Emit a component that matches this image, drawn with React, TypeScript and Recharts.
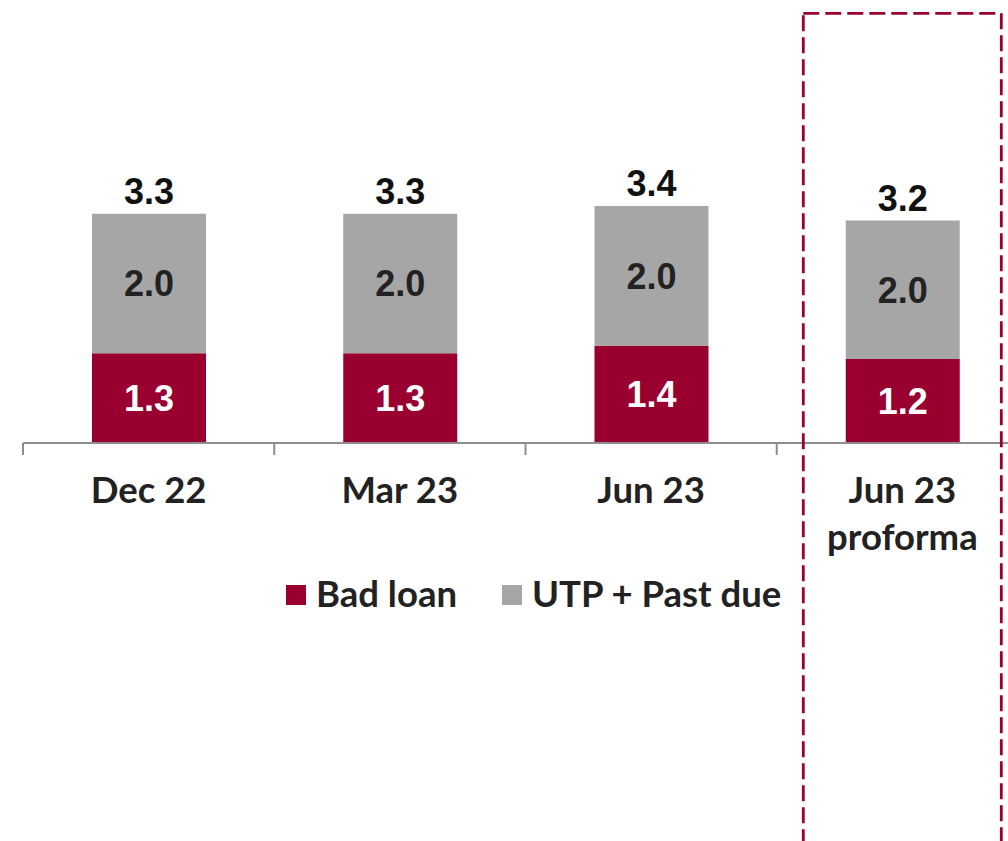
import React from 'react';
import { BarChart, Bar, XAxis, YAxis, LabelList, Legend } from 'recharts';

const categories = ['Dec 22', 'Mar 23', 'Jun 23', 'Jun 23\nproforma'];
const badLoan = [1.29, 1.29, 1.4, 1.21];
const utpPastDue = [2.01, 2.01, 2.01, 1.99];
const totals = [3.3, 3.3, 3.4, 3.2];

const data = categories.map((c, i) => ({
  name: c,
  bad: badLoan[i],
  utp: utpPastDue[i],
  total: totals[i],
}));

const RED = '#99002F';
const GREY = '#A6A6A6';
const AXIS = '#8E8E8E';
const TEXT = '#222222';
const LABEL_FONT = '"Liberation Sans", Arial, sans-serif';
const LATO = 'Lato, "Noto Sans", sans-serif';

const fmt = (v: any) => Number(v).toFixed(1);

const CategoryTick = (props: any) => {
  const { x, y, payload } = props;
  const half = payload && typeof payload.offset === 'number' ? payload.offset : 125.6;
  const lines = String(payload.value).split('\n');
  return (
    <g>
      <line x1={x - half} x2={x - half} y1={y - 12} y2={y} stroke={AXIS} strokeWidth={2} />
      <text
        x={x}
        y={y + 47.5}
        textAnchor="middle"
        fill={TEXT}
        style={{ fontFamily: LATO, fontWeight: 700, fontSize: 36.5 }}
      >
        {lines.map((l, i) => (
          <tspan key={i} x={x} dy={i === 0 ? 0 : 47}>
            {l}
          </tspan>
        ))}
      </text>
    </g>
  );
};

const LegendContent = (props: any) => {
  const items = props.payload || [];
  return (
    <div style={{ display: 'flex', alignItems: 'flex-start' }}>
      {items.map((it: any, i: number) => (
        <div
          key={i}
          style={{ display: 'flex', alignItems: 'flex-start', marginLeft: i === 0 ? 0 : 45 }}
        >
          <span
            style={{
              display: 'inline-block',
              width: 20,
              height: 20,
              marginTop: 13,
              marginRight: 10,
              background: it.color,
            }}
          />
          <span
            style={{
              fontFamily: LATO,
              fontWeight: 700,
              fontSize: 36.5,
              lineHeight: '42px',
              color: TEXT,
              whiteSpace: 'nowrap',
            }}
          >
            {it.value}
          </span>
        </div>
      ))}
    </div>
  );
};

export default function App() {
  return (
    <div
      style={{
        position: 'absolute',
        left: 0,
        top: 0,
        width: 1008,
        height: 841,
        overflow: 'hidden',
        background: '#fff',
      }}
    >
      <BarChart
        width={1050}
        height={841}
        data={data}
        margin={{ top: 26, right: 22, left: 23, bottom: 0 }}
      >
        <YAxis hide domain={[0, 6]} />
        <XAxis
          dataKey="name"
          height={398}
          interval={0}
          axisLine={{ stroke: AXIS, strokeWidth: 2 }}
          tickLine={false}
          tickSize={12}
          tickMargin={0}
          tick={<CategoryTick />}
        />
        <Legend
          layout="horizontal"
          verticalAlign="middle"
          align="center"
          content={<LegendContent />}
          wrapperStyle={{ top: 572, left: 286, width: 'auto', height: 'auto' }}
        />
        <Bar dataKey="bad" name="Bad loan" stackId="a" fill={RED} barSize={114} isAnimationActive={false}>
          <LabelList
            dataKey="bad"
            position="center"
            formatter={fmt}
            fill="#FFFFFF"
            style={{ fontFamily: LABEL_FONT, fontWeight: 700, fontSize: 36 }}
          />
        </Bar>
        <Bar dataKey="utp" name="UTP + Past due" stackId="a" fill={GREY} barSize={114} isAnimationActive={false}>
          <LabelList
            dataKey="utp"
            position="center"
            formatter={fmt}
            fill={TEXT}
            style={{ fontFamily: LABEL_FONT, fontWeight: 700, fontSize: 36 }}
          />
          <LabelList
            dataKey="total"
            position="top"
            offset={10}
            formatter={fmt}
            fill="#111111"
            style={{ fontFamily: LABEL_FONT, fontWeight: 700, fontSize: 36 }}
          />
        </Bar>
      </BarChart>
      <svg
        width={1008}
        height={841}
        style={{ position: 'absolute', left: 0, top: 0, pointerEvents: 'none' }}
      >
        <rect
          x={803.3}
          y={13.3}
          width={198}
          height={900}
          fill="none"
          stroke={RED}
          strokeWidth={2.8}
          strokeDasharray="16 6"
        />
      </svg>
    </div>
  );
}
